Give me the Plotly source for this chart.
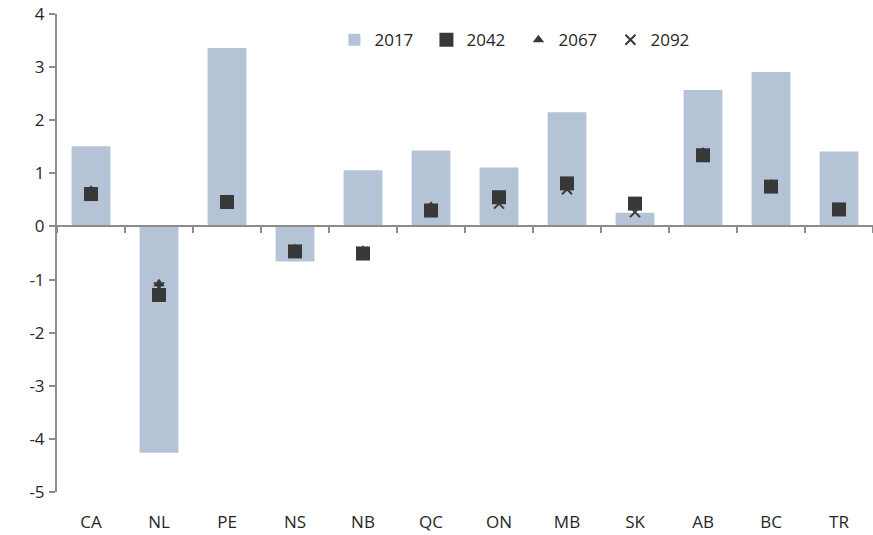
import plotly.graph_objects as go

categories = ["CA", "NL", "PE", "NS", "NB", "QC", "ON", "MB", "SK", "AB", "BC", "TR"]
v2017 = [1.51, -4.26, 3.36, -0.66, 1.06, 1.43, 1.11, 2.15, 0.26, 2.57, 2.91, 1.41]
v2042 = [0.61, -1.29, 0.46, -0.47, -0.51, 0.30, 0.55, 0.81, 0.43, 1.34, 0.75, 0.32]
v2067 = [0.68, -1.08, 0.48, -0.42, -0.45, 0.38, 0.50, 0.78, 0.40, 1.40, 0.80, 0.36]
v2092 = [0.63, -1.15, 0.45, -0.45, -0.48, 0.30, 0.43, 0.70, 0.27, 1.35, 0.75, 0.33]
y_ticks = [4, 3, 2, 1, 0, -1, -2, -3, -4, -5]
y_tick_text = ["4", "3", "2", "1", "0", "-1", "-2", "-3", "-4", "-5"]

y_min, y_max = -5, 4
zero_pos = (0 - y_min) / (y_max - y_min)

bar_color = "#b4c3d6"
mk_color = "#383838"
axis_color = "#8c8c8c"
font = dict(family="Open Sans, Noto Sans, sans-serif", size=17, color="#262626")

fig = go.Figure()
fig.add_trace(go.Bar(x=categories, y=v2017, name="2017", marker_color=bar_color,
                     marker_line_width=0, legendrank=1))
fig.add_trace(go.Scatter(x=categories, y=v2067, name="2067", mode="markers",
                         marker=dict(symbol="triangle-up", size=10, color=mk_color),
                         legendrank=3))
fig.add_trace(go.Scatter(x=categories, y=v2092, name="2092", mode="markers",
                         marker=dict(symbol="x-thin", size=10, color=mk_color,
                                     line=dict(width=2, color=mk_color)),
                         legendrank=4))
fig.add_trace(go.Scatter(x=categories, y=v2042, name="2042", mode="markers",
                         marker=dict(symbol="square", size=14, color=mk_color),
                         legendrank=2))
# invisible helper trace for label axis
fig.add_trace(go.Scatter(x=categories, y=[None] * len(categories), xaxis="x2",
                         showlegend=False, hoverinfo="skip"))

fig.update_layout(
    width=873, height=535,
    margin=dict(l=57, r=0, t=14, b=43),
    plot_bgcolor="white", paper_bgcolor="white",
    font=font,
    bargap=0.43,
    showlegend=True,
    legend=dict(orientation="h", x=0.34, y=0.983, xanchor="left", yanchor="top",
                font=dict(size=17), bgcolor="rgba(0,0,0,0)", itemwidth=30,
                entrywidth=47, traceorder="normal"),
    xaxis=dict(type="category", categoryorder="array", categoryarray=categories,
               range=[-0.5, len(categories) - 0.5],
               anchor="free", position=zero_pos, automargin=False,
               showline=True, linecolor=axis_color, linewidth=2,
               ticks="outside", tickson="boundaries", ticklen=6, tickwidth=2,
               tickcolor=axis_color, showticklabels=False, showgrid=False,
               zeroline=False),
    xaxis2=dict(type="category", categoryorder="array", categoryarray=categories,
                range=[-0.5, len(categories) - 0.5],
                overlaying="x", anchor="y", side="bottom", automargin=False,
                showline=False, ticks="", showgrid=False, zeroline=False,
                ticklabelstandoff=18, tickfont=font, ticklabeloverflow="allow"),
    yaxis=dict(range=[y_min, y_max], tickvals=y_ticks, ticktext=y_tick_text,
               automargin=False, ticklabeloverflow="allow",
               showline=True, linecolor=axis_color, linewidth=2,
               ticks="outside", ticklen=6, tickwidth=2, tickcolor=axis_color,
               showgrid=False, zeroline=False, tickfont=font,
               ticklabelstandoff=1),
)

fig.write_html("out.html", config={"displayModeBar": False},
               post_script="document.body.style.margin='0';")
